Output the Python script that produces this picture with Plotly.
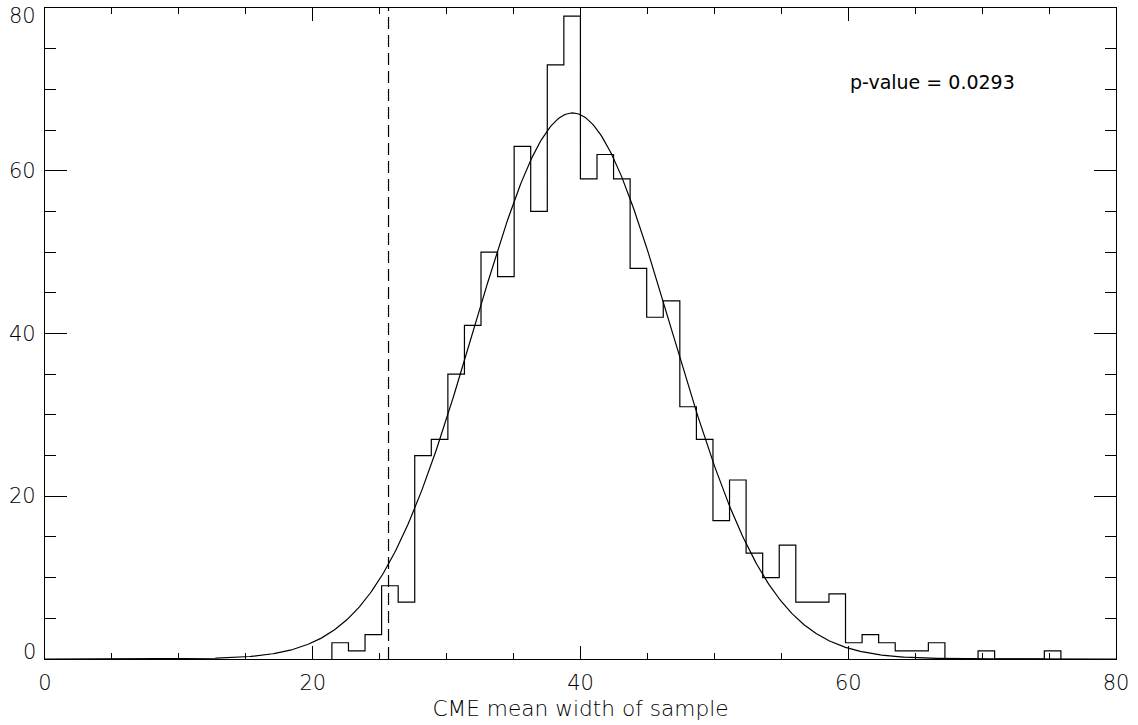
import plotly.graph_objects as go
import numpy as np

# Histogram of CME mean width of sample (bin start, bin width)
bin_start = 21.43
bin_width = 1.2376
counts = [2, 1, 3, 9, 7, 25, 27, 35, 41, 50, 47, 63, 55, 73, 79, 59, 62, 59, 48, 42,
          44, 31, 27, 17, 22, 13, 10, 14, 7, 7, 8, 2, 3, 2, 1, 1, 2, 0, 0, 1,
          0, 0, 0, 1]

# Fitted Gaussian parameters
g_mean = 39.41
g_sigma = 7.35
g_amp = 67.1

observed_value = 25.66
pvalue_text = "p-value = 0.0293"

x_ticks = [0, 20, 40, 60, 80]
y_ticks = [0, 20, 40, 60, 80]
y_tick_labels = ["0", "20", "40", "60", "80"]

n = len(counts)
edges = [bin_start + i * bin_width for i in range(n + 1)]
hx = [edges[0]] + edges + [edges[-1]]
hy = [0] + counts + [counts[-1]] + [0]

gx = np.linspace(0, 80, 801)
gy = g_amp * np.exp(-0.5 * ((gx - g_mean) / g_sigma) ** 2)

fig = go.Figure()
fig.add_trace(go.Scatter(x=hx, y=hy, mode="lines", line=dict(shape="hv", color="black", width=1.2),
                         hoverinfo="skip", showlegend=False))
fig.add_trace(go.Scatter(x=gx, y=gy, mode="lines", line=dict(color="black", width=1.2),
                         hoverinfo="skip", showlegend=False))
fig.add_trace(go.Scatter(x=[observed_value, observed_value], y=[0, 80], mode="lines",
                         line=dict(color="black", width=1.2, dash="12px,6px"),
                         hoverinfo="skip", showlegend=False))

fig.add_annotation(x=60, y=70.9, xref="x", yref="y", text=pvalue_text, showarrow=False,
                   xanchor="left", yanchor="middle",
                   font=dict(family="DejaVu Sans", size=19, color="black"))

axis_font = dict(family="DejaVu Sans Light, DejaVu Sans", size=21, color="black")
title_font = dict(family="DejaVu Sans Light, DejaVu Sans", size=21.7, color="black")

# y tick labels (IDL keeps the end labels inside the axis range)
for v, lab in zip(y_ticks, y_tick_labels):
    shift = 0
    if v == y_ticks[0]:
        shift = 7
    elif v == y_ticks[-1]:
        shift = -8
    fig.add_annotation(x=0, y=v, xref="paper", yref="y", text=lab, showarrow=False,
                       xanchor="right", yanchor="middle", xshift=-7, yshift=shift,
                       font=axis_font)

fig.update_xaxes(range=[0, 80], tickvals=x_ticks, ticks="inside", ticklen=13, tickwidth=1,
                 tickcolor="black", showline=True, linecolor="black", linewidth=1.3,
                 mirror="allticks", showgrid=False, zeroline=False, automargin=False,
                 ticklabeloverflow="allow", ticklabelstandoff=5,
                 minor=dict(dtick=5, ticks="inside", ticklen=6, tickcolor="black", showgrid=False),
                 tickfont=axis_font,
                 title=dict(text="CME mean width of sample", font=title_font, standoff=6))
fig.update_yaxes(range=[0, 80], tickvals=y_ticks, ticks="inside", ticklen=22, tickwidth=1,
                 tickcolor="black", showline=True, linecolor="black", linewidth=1.3,
                 mirror="allticks", showgrid=False, zeroline=False, automargin=False,
                 showticklabels=False,
                 minor=dict(dtick=5, ticks="inside", ticklen=11, tickcolor="black", showgrid=False))

fig.update_layout(width=1138, height=725, margin=dict(l=45, r=22, t=8, b=66),
                  plot_bgcolor="white", paper_bgcolor="white", showlegend=False)

# remove the browser's default 8px body margin so the figure fills the window
fig.write_html("out.html", config={"displayModeBar": False},
               post_script="document.body.style.margin='0';")
